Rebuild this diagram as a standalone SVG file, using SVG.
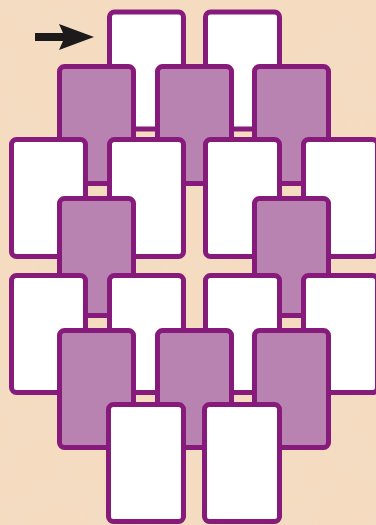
<svg xmlns="http://www.w3.org/2000/svg" width="376" height="525" viewBox="0 0 376 525">
<defs>
<style>
.w{fill:#ffffff;stroke:#861b7c;stroke-width:5}
.p{fill:#b983b1;stroke:#861b7c;stroke-width:5}
.arrow{fill:#1c1a1a}
</style>
<filter id="tex" x="0" y="0" width="100%" height="100%">
<feTurbulence type="fractalNoise" baseFrequency="0.025" numOctaves="4" seed="7" result="n"/>
<feColorMatrix in="n" type="matrix" values="0 0 0 0 0.86  0 0 0 0 0.72  0 0 0 0 0.56  0 0 0 1.6 -0.75" result="c"/>
<feComposite in="c" in2="SourceGraphic" operator="in"/>
</filter>
</defs>
<rect width="376" height="525" fill="#f5dcc1"/>
<rect width="376" height="525" fill="#f5dcc1" filter="url(#tex)" opacity="0.7"/>
<g id="rowA">
<g id="a1"><rect class="w" x="109.5" y="12" width="74" height="117" rx="5"/></g>
<g id="a2"><rect class="w" x="205.5" y="12" width="74" height="117" rx="5"/></g>
</g>
<g id="rowB">
<g id="b1"><rect class="p" x="59.5" y="66.5" width="74" height="117" rx="5"/></g>
<g id="b2"><rect class="p" x="157.5" y="66.5" width="74" height="117" rx="5"/></g>
<g id="b3"><rect class="p" x="254.5" y="66.5" width="74" height="117" rx="5"/></g>
</g>
<g id="rowC">
<g id="c1"><rect class="w" x="11.5" y="139.5" width="74" height="117" rx="5"/></g>
<g id="c2"><rect class="w" x="109.5" y="139.5" width="74" height="117" rx="5"/></g>
<g id="c3"><rect class="w" x="205.5" y="139.5" width="74" height="117" rx="5"/></g>
<g id="c4"><rect class="w" x="303.5" y="139.5" width="74" height="117" rx="5"/></g>
</g>
<g id="rowD">
<g id="d1"><rect class="p" x="59.5" y="198.5" width="74" height="117" rx="5"/></g>
<g id="d2"><rect class="p" x="254.5" y="198.5" width="74" height="117" rx="5"/></g>
</g>
<g id="rowE">
<g id="e1"><rect class="w" x="11.5" y="275.5" width="74" height="117" rx="5"/></g>
<g id="e2"><rect class="w" x="109.5" y="275.5" width="74" height="117" rx="5"/></g>
<g id="e3"><rect class="w" x="205.5" y="275.5" width="74" height="117" rx="5"/></g>
<g id="e4"><rect class="w" x="303.5" y="275.5" width="74" height="117" rx="5"/></g>
</g>
<g id="rowF">
<g id="f1"><rect class="p" x="59.5" y="330.5" width="74" height="117" rx="5"/></g>
<g id="f2"><rect class="p" x="157.5" y="330.5" width="74" height="117" rx="5"/></g>
<g id="f3"><rect class="p" x="254.5" y="330.5" width="74" height="117" rx="5"/></g>
</g>
<g id="rowG">
<g id="g1"><rect class="w" x="108.5" y="404.5" width="75" height="117" rx="5"/></g>
<g id="g2"><rect class="w" x="204.5" y="404.5" width="75" height="117" rx="5"/></g>
</g>
<g id="connectors">
<path class="arrow" d="M35 33 H63 L59 24 L94 37 L59 50 L63 41 H35 Z"/>
</g>
</svg>
